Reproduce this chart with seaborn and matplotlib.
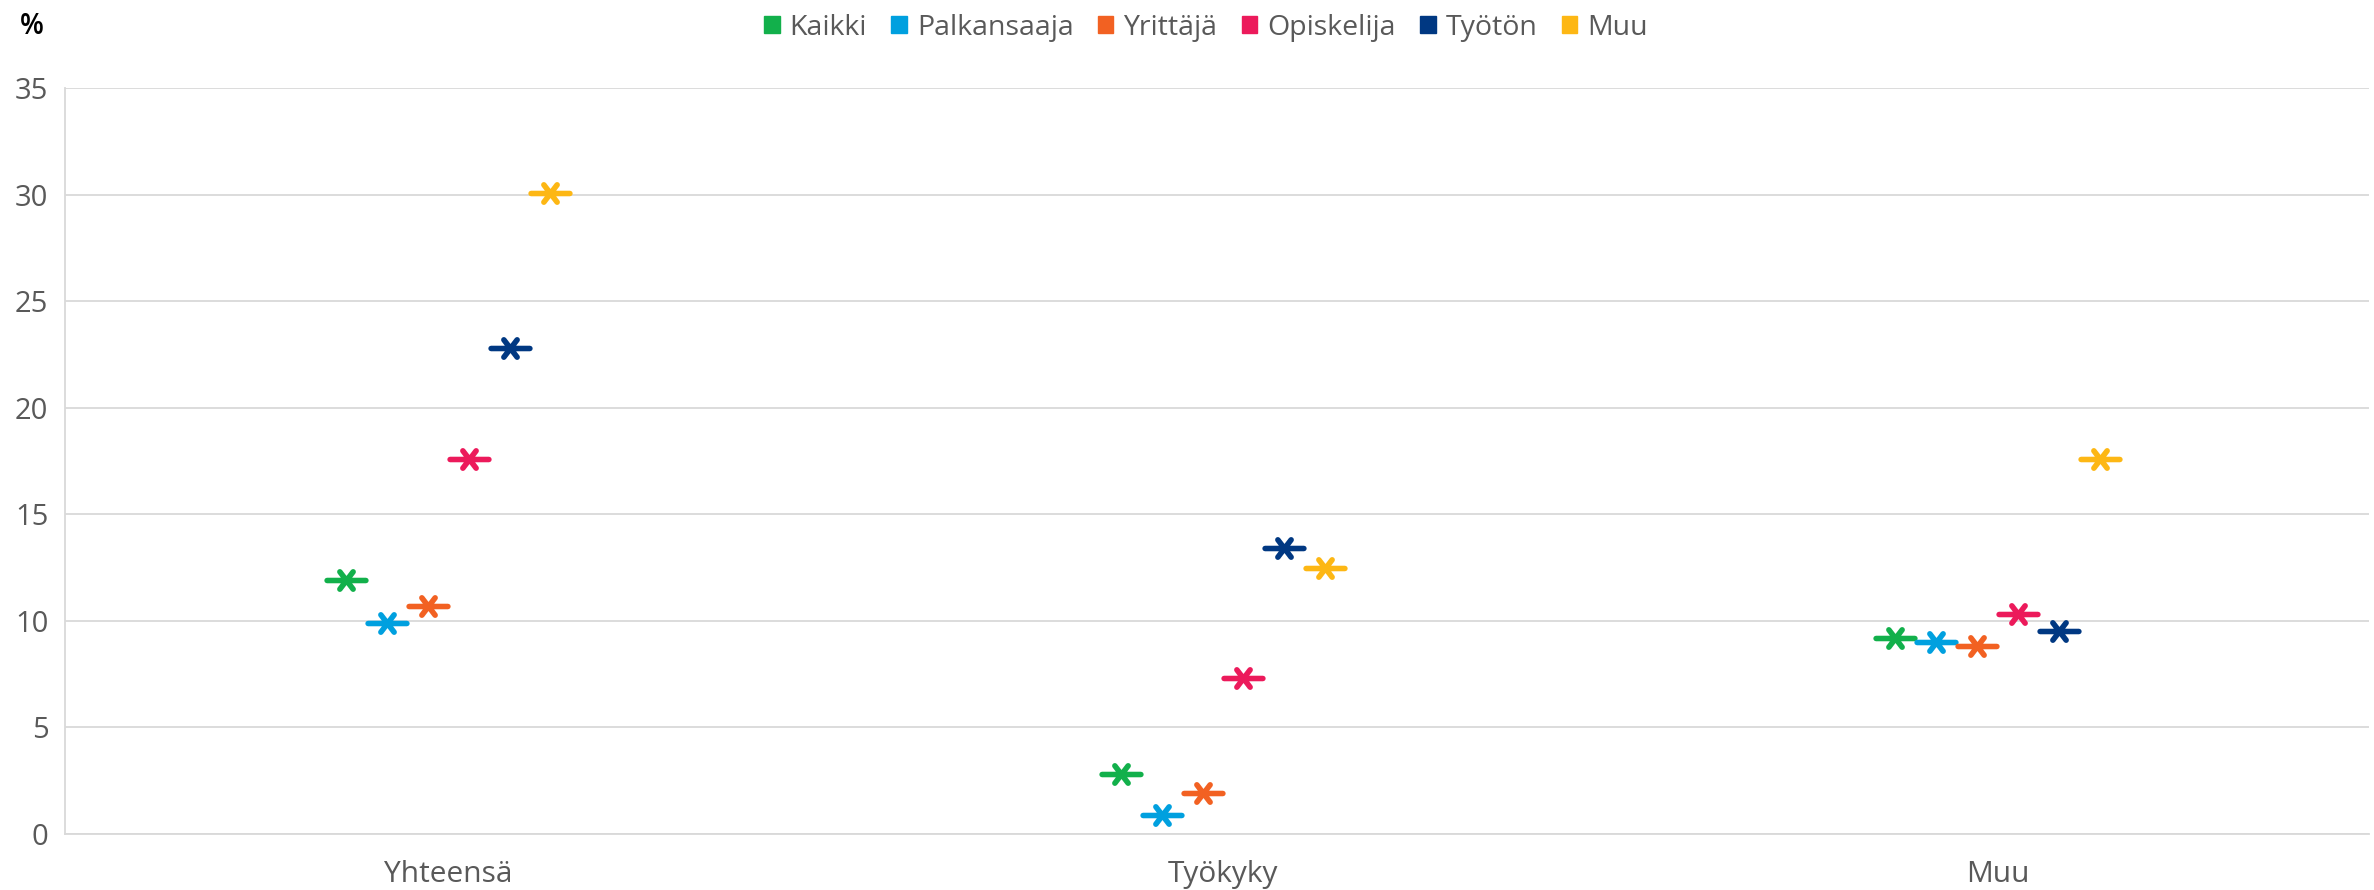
import numpy as np
import pandas as pd
import matplotlib
matplotlib.use("Agg")
import matplotlib.pyplot as plt
from matplotlib.path import Path
from matplotlib.patches import Patch
import seaborn as sns

# data
categories = ["Yhteensä", "Työkyky", "Muu"]
series = ["Kaikki", "Palkansaaja", "Yrittäjä", "Opiskelija", "Työtön", "Muu"]
kaikki = [11.9, 2.8, 9.2]
palkansaaja = [9.9, 0.9, 9.0]
yrittaja = [10.7, 1.9, 8.8]
opiskelija = [17.6, 7.3, 10.3]
tyoton = [22.8, 13.4, 9.5]
muu = [30.1, 12.5, 17.6]
colors = ["#12B04B", "#00A0DF", "#F26122", "#EC1A5B", "#003882", "#FDB714"]

values = [kaikki, palkansaaja, yrittaja, opiskelija, tyoton, muu]
rows = []
for si, name in enumerate(series):
    for ci, cat in enumerate(categories):
        rows.append({"series": name, "cat": cat, "ci": ci, "si": si, "value": values[si][ci]})
df = pd.DataFrame(rows)
# small dodge inside each category, like the Excel chart
step = 0.0527
df["xpos"] = df["ci"] + (df["si"] - (len(series) - 1) / 2) * step

sns.set_style("white")
plt.rcParams["font.family"] = ["Open Sans", "DejaVu Sans"]

# Excel style "star" marker: asterisk with a horizontal bar
verts = [(-19, 0), (19, 0), (-6.5, -8.5), (6.5, 8.5), (-6.5, 8.5), (6.5, -8.5)]
codes = [Path.MOVETO, Path.LINETO] * 3
star = Path(verts, codes)

fig = plt.figure(figsize=(23.74, 8.9), dpi=100)
ax = fig.add_axes([0.0274, 0.063, 0.9706, 0.838])

for si, name in enumerate(series):
    sub = df[df["series"] == name]
    sns.scatterplot(data=sub, x="xpos", y="value", ax=ax, marker=star, s=780,
                    color=colors[si], edgecolor=colors[si], linewidth=4.0,
                    legend=False, zorder=3)
for coll in ax.collections:
    coll.set_capstyle("round")

ax.set_xlim(-0.495, 2.48)
ax.set_ylim(0, 35)
ax.set_yticks(np.arange(0, 36, 5))
ax.set_xticks(range(len(categories)))
ax.set_xticklabels(categories)
ax.set_xlabel("")
ax.set_ylabel("")
ax.grid(axis="y", color="#D9D9D9", linewidth=1.3)
ax.set_axisbelow(True)
for side in ["top", "right"]:
    ax.spines[side].set_visible(False)
for side in ["left", "bottom"]:
    ax.spines[side].set_color("#D9D9D9")
    ax.spines[side].set_linewidth(1.3)
ax.tick_params(axis="both", length=0, colors="#595959")
ax.tick_params(axis="y", pad=12, labelsize=21)
ax.tick_params(axis="x", pad=19, labelsize=21.5)

handles = [Patch(facecolor=c, edgecolor=c) for c in colors]
fig.legend(handles, series, loc="center", bbox_to_anchor=(0.508, 0.969), ncol=6,
           frameon=False, fontsize=20.5, handlelength=0.55, handleheight=0.55,
           handletextpad=0.35, columnspacing=0.85, labelcolor="#595959")

fig.text(0.0085, 0.97, "%", fontsize=20, color="black", va="center", ha="left",
         fontweight="semibold")

fig.savefig("out.png", dpi=100)
